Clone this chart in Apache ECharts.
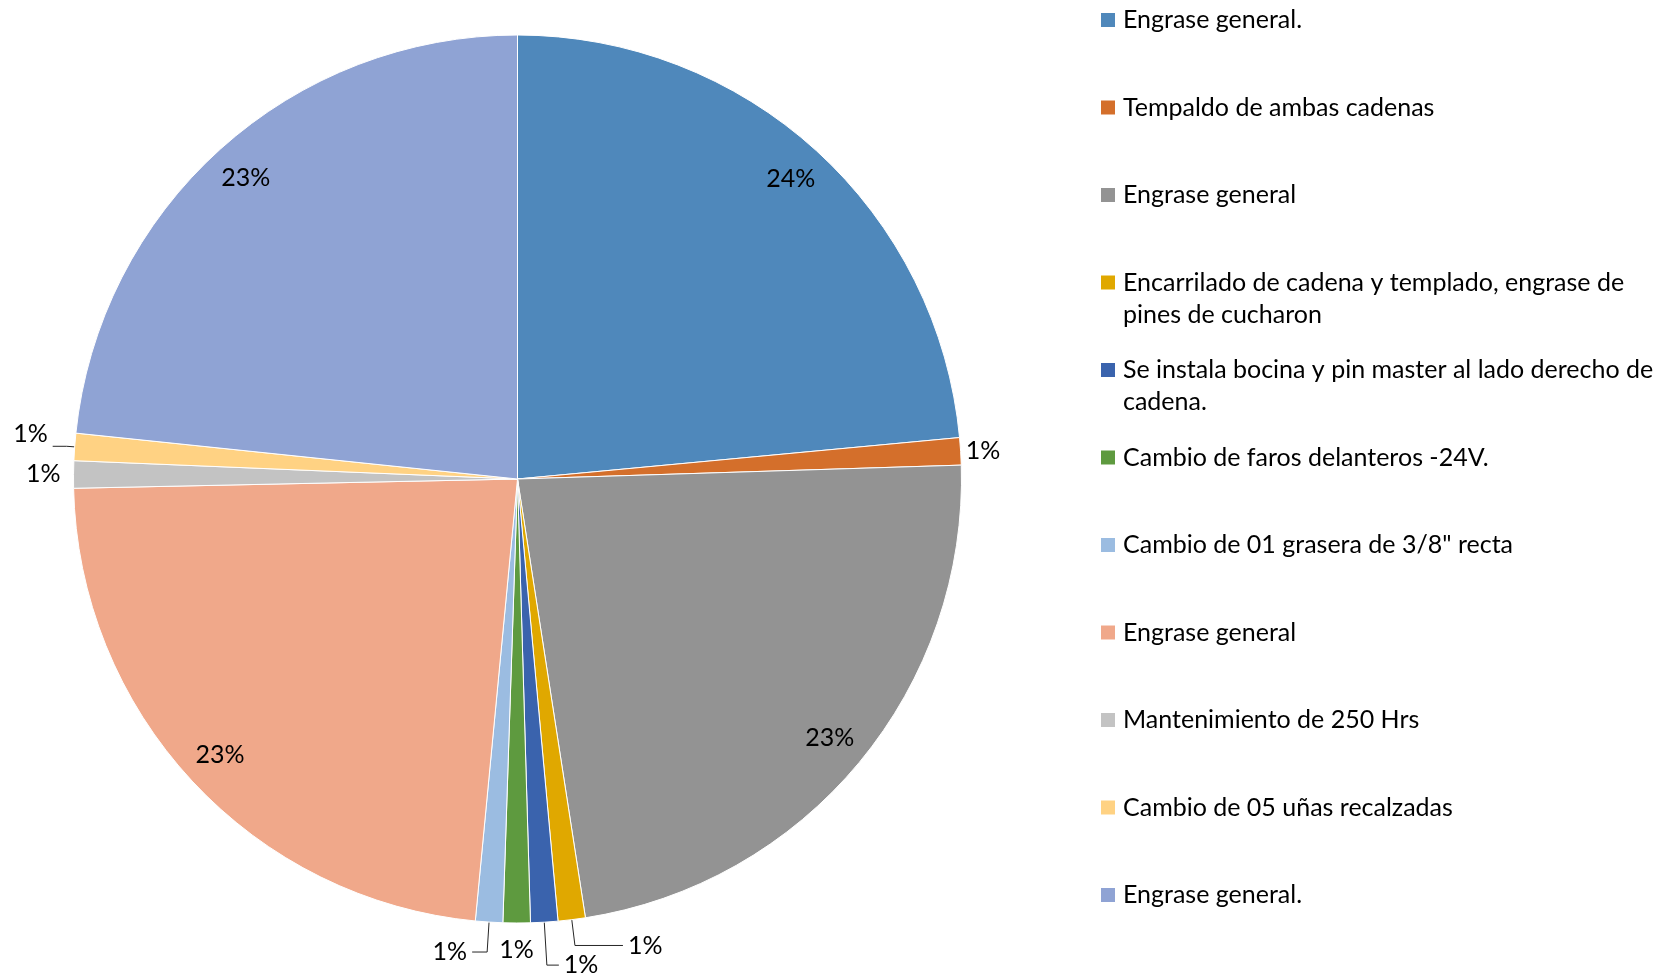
<!DOCTYPE html>
<html><head><meta charset="utf-8">
<script src="https://cdn.jsdelivr.net/npm/echarts@6/dist/echarts.min.js"></script>
<style>html,body{margin:0;padding:0;background:#fff}#chart{width:1663px;height:976px}</style>
</head><body><div id="chart"></div>
<script>
// ---- data ----
const categories = [
  "Engrase general.",
  "Tempaldo de ambas cadenas",
  "Engrase general",
  "Encarrilado de cadena y templado, engrase de pines de cucharon",
  "Se instala bocina y pin master al lado derecho de cadena.",
  "Cambio de faros delanteros -24V.",
  "Cambio de 01 grasera de 3/8\" recta",
  "Engrase general",
  "Mantenimiento de 250 Hrs",
  "Cambio de 05 uñas recalzadas",
  "Engrase general."
];
const values = [23.51, 0.99, 23.05, 0.99, 0.99, 0.99, 0.99, 23.15, 0.99, 0.99, 23.35];
const colors = ["#4F88BB","#D46F2B","#939393","#E0A800","#3A63AD","#5E9A3F","#9BBCE1","#F0A88A","#C3C3C3","#FFD283","#8FA3D4"];

// ---- styles ----
const FONT = 'Lato';
const FS = 25;
const LH = 32;
const WRAP = 545;
const CX = 517.5, CY = 479, R = 444;
// per-slice leader-line styling for the small outside labels (style only)
const outsideLabelStyle = {
  1: {length: 0, length2: 0, show: false},
  3: {length: 26, length2: 48, show: true},
  4: {length: 43, length2: 12, show: true},
  5: {length: 27, length2: 0, show: false, center: true},
  6: {length: 30, length2: 15, show: true},
  8: {length: 8, length2: 0, show: false},
  9: {length: 8, length2: 14, show: true, bottom: true}
};

// unique internal names (duplicates get zero-width suffix)
const seen = {};
const names = categories.map(c => { seen[c] = (seen[c] || 0) + 1; return c + '\u200B'.repeat(seen[c] - 1); });
const clean = s => s.replace(/\u200B/g, '');

const cv = document.createElement('canvas').getContext('2d');
function measure(t) { cv.font = FS + 'px ' + FONT; return cv.measureText(t).width; }
function wrap(t) {
  const words = t.split(' '); const lines = []; let cur = '';
  for (const w of words) { const test = cur ? cur + ' ' + w : w; if (cur && measure(test) > WRAP) { lines.push(cur); cur = w; } else cur = test; }
  lines.push(cur); return lines;
}

const total = values.reduce((a, b) => a + b, 0);
const isSmall = v => v / total < 0.05;
const pctFmt = p => Math.round(p.percent) + '%';

const legends = names.map((n, i) => {
  const lines = wrap(clean(n)).length;
  const iconY = 20 + i * 87.5;
  return {
    data: [n], orient: 'vertical', left: 1101, top: iconY - LH * (2 * lines - 1) / 2,
    padding: 0, itemWidth: 14, itemHeight: 14, icon: 'rect',
    itemStyle: {borderWidth: 0},
    // blank leading lines keep the first text line level with the icon
    formatter: name => { const l = wrap(clean(name)); return new Array(l.length - 1).fill(' ').concat(l).join('\n'); },
    textStyle: {fontFamily: FONT, fontSize: FS, color: '#000', lineHeight: LH, padding: [0, 0, 0, 3]}
  };
});

const chart = echarts.init(document.getElementById('chart'), null, {renderer: 'canvas'});
chart.setOption({
  backgroundColor: '#fff',
  animation: false,
  legend: legends,
  series: [
    {
      type: 'pie', center: [CX, CY], radius: R, startAngle: 90, clockwise: true,
      avoidLabelOverlap: false,
      itemStyle: {borderColor: '#fff', borderWidth: 1},
      emphasis: {scale: false},
      label: {show: false, position: 'outside', fontFamily: FONT, fontSize: FS, color: '#000', formatter: pctFmt, distanceToLabelLine: 5},
      labelLine: {show: true, lineStyle: {color: '#262626', width: 1}},
      labelLayout: p => {
        const s = outsideLabelStyle[p.dataIndex];
        if (!s) return {};
        const o = {};
        if (s.center) o.align = 'center';
        if (s.bottom) o.verticalAlign = 'bottom';
        return o;
      },
      data: names.map((n, i) => {
        const s = outsideLabelStyle[i];
        const item = {name: n, value: values[i], itemStyle: {color: colors[i]}};
        if (isSmall(values[i]) && s) {
          item.label = {show: true, distanceToLabelLine: s.center ? 0 : 5};
          item.labelLine = {show: s.show, length: s.length, length2: s.length2};
        } else {
          item.label = {show: false};
          item.labelLine = {show: false};
        }
        return item;
      })
    },
    {
      type: 'pie', silent: true, center: [CX, CY], radius: [362, R], startAngle: 90, clockwise: true,
      avoidLabelOverlap: false,
      itemStyle: {color: 'rgba(0,0,0,0)'},
      emphasis: {disabled: true},
      label: {position: 'inside', fontFamily: FONT, fontSize: FS, color: '#000', formatter: pctFmt},
      labelLine: {show: false},
      data: names.map((n, i) => ({name: n, value: values[i], itemStyle: {color: 'rgba(0,0,0,0)'}, label: {show: !isSmall(values[i])}}))
    }
  ]
});
</script>
</body></html>
